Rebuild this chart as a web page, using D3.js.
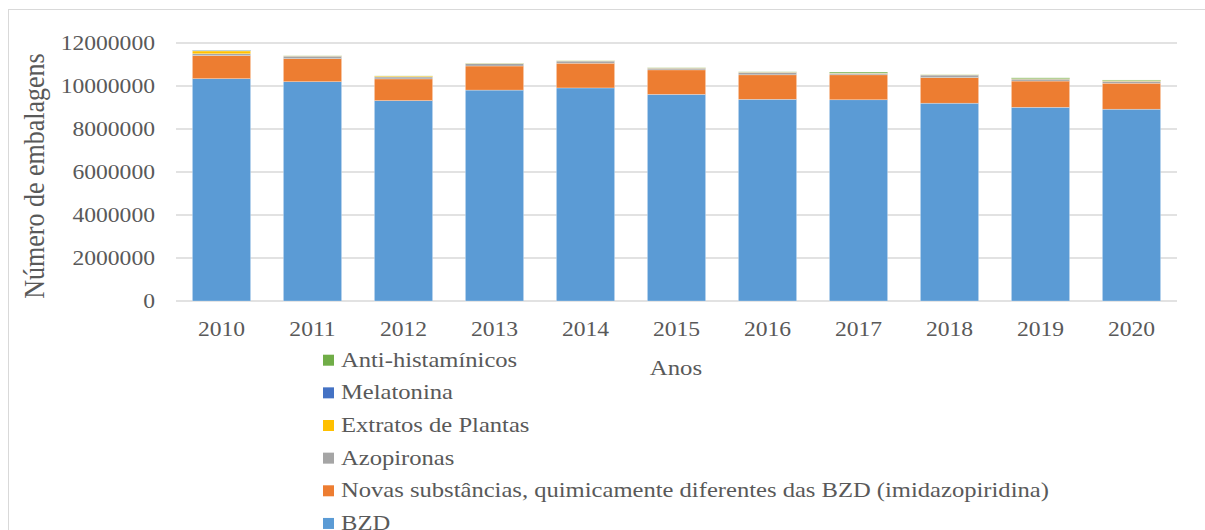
<!DOCTYPE html>
<html><head><meta charset="utf-8">
<script src="https://cdn.jsdelivr.net/npm/d3@7/dist/d3.min.js"></script>
<style>body{margin:0;background:#fff}svg{display:block}text{font-family:"Liberation Serif","Times New Roman",serif;fill:#595959}</style>
</head><body>
<svg id="c" width="1205" height="530"></svg>
<script>
const years = ["2010","2011","2012","2013","2014","2015","2016","2017","2018","2019","2020"];
const bzd = [10340000,10200000,9320000,9810000,9910000,9610000,9380000,9360000,9200000,9010000,8920000];
const novas = [1070000,1070000,1010000,1120000,1150000,1140000,1140000,1160000,1190000,1220000,1210000];
const azopironas = [90000,120000,90000,110000,100000,80000,120000,70000,120000,90000,90000];
const extratos = [130000,10000,40000,10000,10000,10000,10000,10000,10000,20000,30000];
const melatonina = [30000,0,0,0,0,0,0,0,0,0,0];
const antihist = [10000,10000,10000,10000,10000,10000,10000,50000,10000,40000,30000];
const yTicks = [0,2000000,4000000,6000000,8000000,10000000,12000000];
const seriesNames = ["BZD","Novas substâncias, quimicamente diferentes das BZD (imidazopiridina)","Azopironas","Extratos de Plantas","Melatonina","Anti-histamínicos"];
const seriesVals = [bzd,novas,azopironas,extratos,melatonina,antihist];
const colors = ["#5B9BD5","#ED7D31","#A5A5A5","#FFC000","#4472C4","#70AD47"];

const svg = d3.select("#c");
// outer chart border
svg.append("rect").attr("x",8.5).attr("y",9.5).attr("width",1300).attr("height",600)
  .attr("fill","none").attr("stroke","#D9D9D9").attr("stroke-width",1);

const x = d3.scaleBand().domain(years).range([176,1177]).paddingInner(0.36).paddingOuter(0.18);
const y = d3.scaleLinear().domain([0,12000000]).range([301,43]);

// gridlines
svg.append("g").selectAll("line").data(yTicks).join("line")
  .attr("x1",176).attr("x2",1177).attr("y1",d=>y(d)).attr("y2",d=>y(d))
  .attr("stroke","#D9D9D9").attr("stroke-width",1.3);

// stacked data
const table = years.map((yr,i)=>{const o={year:yr};seriesNames.forEach((n,k)=>o[n]=seriesVals[k][i]);return o;});
const stack = d3.stack().keys(seriesNames)(table);
svg.append("g").selectAll("g").data(stack).join("g")
  .attr("fill",(d,i)=>colors[i])
  .selectAll("rect").data(d=>d.filter(s=>s[1]-s[0]>0)).join("rect")
  .attr("x",d=>x(d.data.year)).attr("width",x.bandwidth())
  .attr("y",d=>y(d[1])).attr("height",d=>y(d[0])-y(d[1]))
  .attr("stroke","rgba(255,255,255,0.45)").attr("stroke-width",0.6);

// y axis labels
const sx = 1.18;
svg.append("g").selectAll("text").data(yTicks).join("text")
  .attr("transform",d=>`translate(155,${y(d)+6.5}) scale(${sx},1)`)
  .attr("text-anchor","end").attr("font-size",20).text(d=>d3.format("d")(d));

// x axis labels
svg.append("g").selectAll("text").data(years).join("text")
  .attr("transform",d=>`translate(${x(d)+x.bandwidth()/2},336) scale(${sx},1)`)
  .attr("text-anchor","middle").attr("font-size",20).text(d=>d);

// axis titles
svg.append("text").attr("transform","translate(44,176) rotate(-90) scale(1,1.1)")
  .attr("text-anchor","middle").attr("font-size",26).text("Número de embalagens");
svg.append("text").attr("transform",`translate(676,375) scale(${sx},1)`)
  .attr("text-anchor","middle").attr("font-size",21).text("Anos");

// legend (reverse order)
const legOrder = d3.range(seriesNames.length).reverse();
const lg = svg.append("g").selectAll("g").data(legOrder).join("g")
  .attr("transform",(d,i)=>`translate(323,${366.7+i*32.65})`);
lg.append("rect").attr("x",0).attr("y",-12).attr("width",11).attr("height",11).attr("fill",d=>colors[d]);
lg.append("text").attr("transform",`translate(18,0) scale(1.2,1)`).attr("font-size",20.5).text(d=>seriesNames[d]);
</script>
</body></html>
